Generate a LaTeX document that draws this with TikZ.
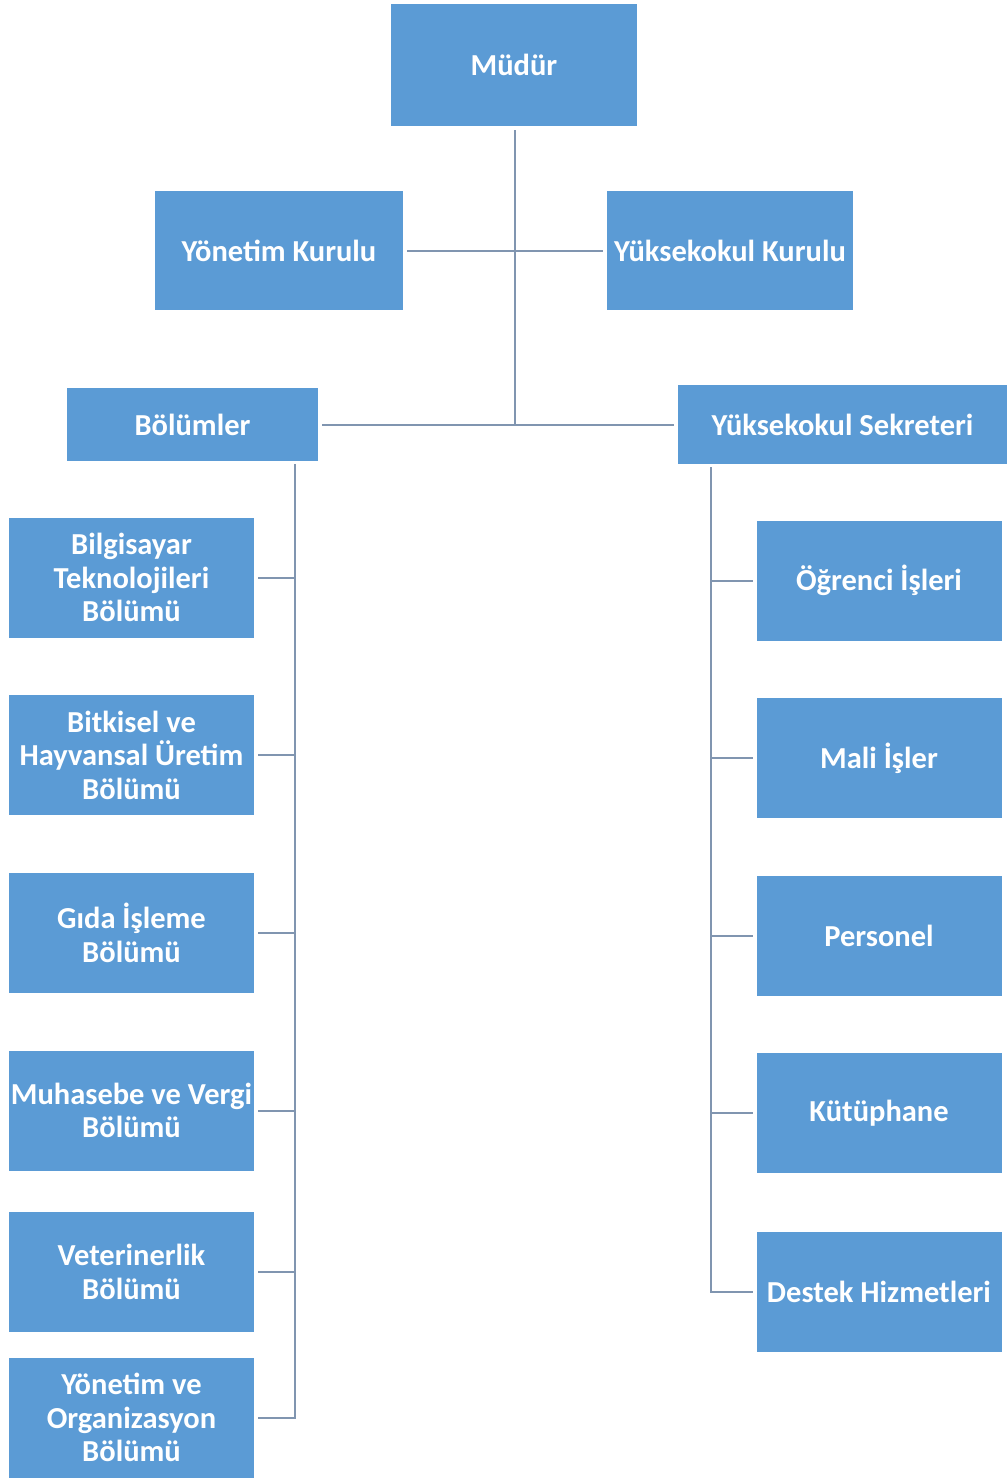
\documentclass[tikz,border=0pt]{standalone}
\usepackage{fontspec}
\setmainfont{Carlito}
\definecolor{boxblue}{HTML}{5B9BD5}
\definecolor{linecol}{HTML}{8095B0}
\begin{document}
\begin{tikzpicture}[x=1pt,y=-1pt,
  box/.style={fill=boxblue,text=white,align=center,inner sep=0pt,outer sep=4pt,
    font=\fontsize{30.5}{33.5}\selectfont\bfseries},
  conn/.style={draw=linecol,line width=2pt}]
\useasboundingbox[fill=white] (0,0) rectangle (1007,1481);
% top
\node[box,minimum width=246pt,minimum height=122pt] (mudur) at (514,65) {Müdür};
\node[box,minimum width=248pt,minimum height=119pt] (yk) at (279,250.5) {Yönetim Kurulu};
\node[box,minimum width=246pt,minimum height=119pt] (ykk) at (730,250.5) {Yüksekokul Kurulu};
\node[box,minimum width=251pt,minimum height=73pt] (bol) at (192.5,424.5) {Bölümler};
\node[box,minimum width=329pt,minimum height=79pt] (sek) at (842.5,424.5) {Yüksekokul Sekreteri};
% left column
\begin{scope}[every node/.append style={box,minimum width=245pt,minimum height=120pt}]
\node (b1) at (131.5,577.5) {Bilgisayar\\Teknolojileri\\Bölümü};
\node (b2) at (131.5,755) {Bitkisel ve\\Hayvansal Üretim\\Bölümü};
\node (b3) at (131.5,933) {Gıda İşleme\\Bölümü};
\node (b4) at (131.5,1110.5) {Muhasebe ve Vergi\\Bölümü};
\node (b5) at (131.5,1272) {Veterinerlik\\Bölümü};
\node (b6) at (131.5,1417.5) {Yönetim ve\\Organizasyon\\Bölümü};
% right column
\node (s1) at (879,580.5) {Öğrenci İşleri};
\node (s2) at (879,758) {Mali İşler};
\node (s3) at (879,935.5) {Personel};
\node (s4) at (879,1113) {Kütüphane};
\node (s5) at (879,1291.5) {Destek Hizmetleri};
\end{scope}
% junction coordinates
\coordinate (jmid) at (515,425);
\coordinate (ltop) at (295,464);
\coordinate (rtop) at (711,467);
% connectors
\draw[conn] (mudur.south -| jmid) -- (jmid);
\draw[conn] (yk.east) -- (ykk.west);
\draw[conn] (bol.east) -- (sek.west);
\draw[conn] (ltop) -- (ltop |- b6.east) -- (b6.east);
\foreach \n in {b1,b2,b3,b4,b5}{\draw[conn] (\n.east) -- (\n.east -| ltop);}
\draw[conn] (rtop) -- (rtop |- s5.west) -- (s5.west);
\foreach \n in {s1,s2,s3,s4}{\draw[conn] (\n.west) -- (\n.west -| rtop);}
\end{tikzpicture}
\end{document}
